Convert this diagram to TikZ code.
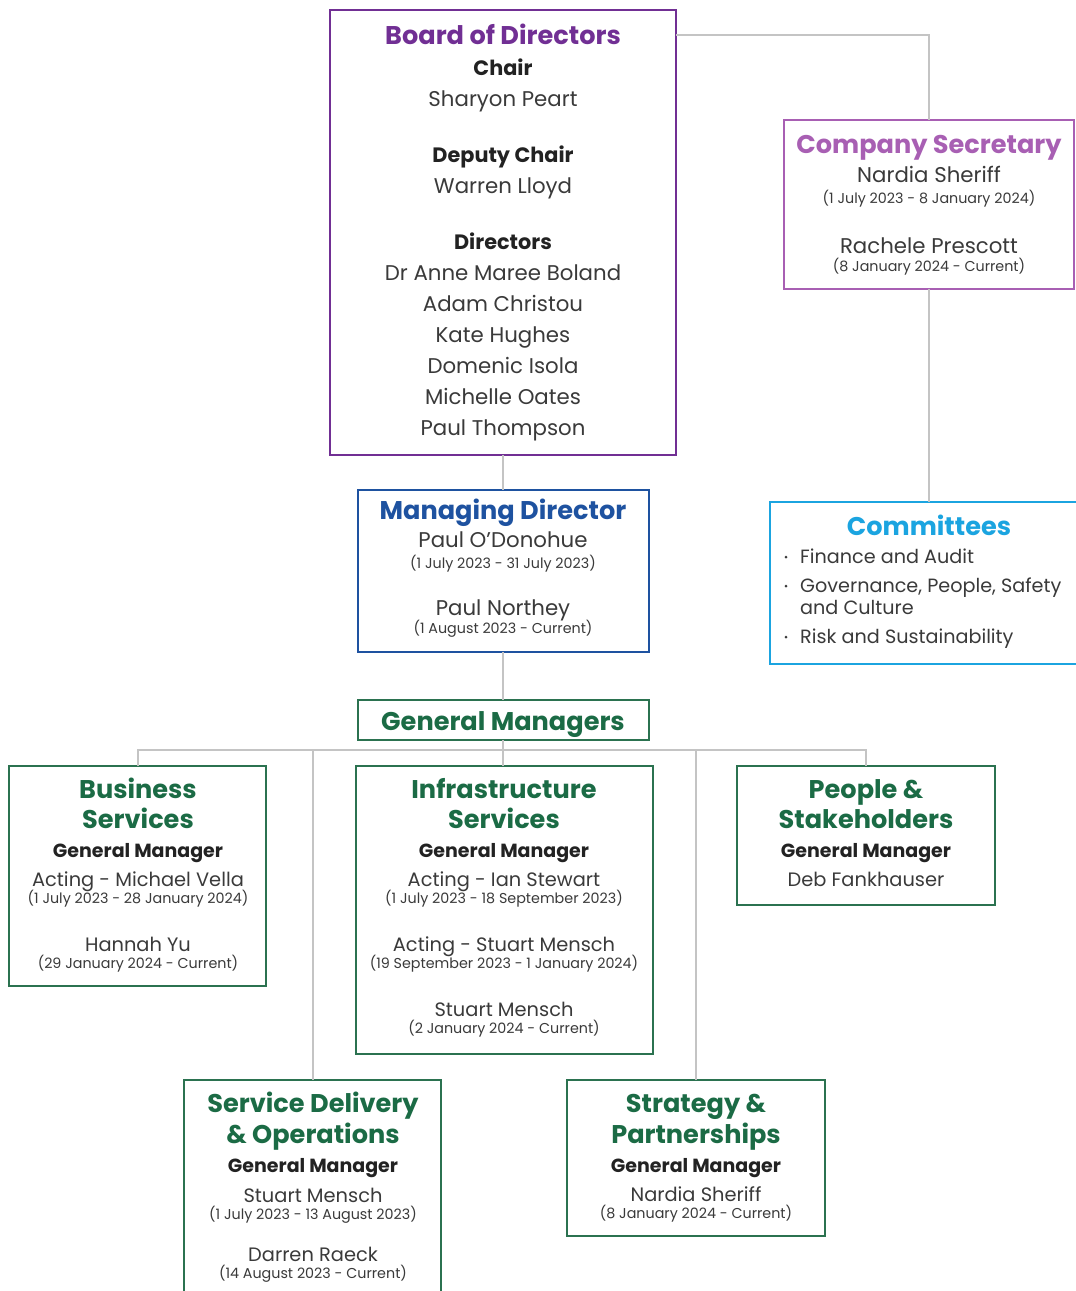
\documentclass[tikz,border=0pt]{standalone}
\usepackage{fontspec}
\setmainfont{Poppins}
\definecolor{boardpurple}{HTML}{712F94}
\definecolor{secpurple}{HTML}{A85FB3}
\definecolor{mdblue}{HTML}{1E52A0}
\definecolor{comcyan}{HTML}{1BA4E0}
\definecolor{gmgreen}{HTML}{1B6B45}
\definecolor{gmborder}{HTML}{2B7250}
\definecolor{connector}{HTML}{C4C4C4}
\definecolor{bodytext}{HTML}{3A3A3A}
\definecolor{roletext}{HTML}{222222}
\newcounter{txtline}
% place one line of text with its baseline at (x,y)
\newcommand\txtline[4]{\stepcounter{txtline}\node[#3] (line\arabic{txtline}) at (#1,#2) {#4};}
\tikzset{
  orgbox/.style={draw=#1, line width=2pt, fill=white, anchor=north west, inner sep=0pt, outer sep=0pt},
  conn/.style={draw=connector, line width=2pt},
  ttl/.style={anchor=base, inner sep=0pt, text=#1, font=\fontsize{25.6}{30}\selectfont\bfseries},
  role/.style={anchor=base, inner sep=0pt, text=roletext, font=\fontsize{19}{23}\selectfont\bfseries},
  bigrole/.style={role, font=\fontsize{20.8}{25}\selectfont\bfseries},
  person/.style={anchor=base, inner sep=0pt, text=bodytext, font=\fontsize{19.4}{24}\selectfont},
  bigperson/.style={person, font=\fontsize{21.3}{25}\selectfont},
  item/.style={anchor=base west, inner sep=0pt, text=bodytext, font=\fontsize{19.2}{24}\selectfont},
  period/.style={anchor=base, inner sep=0pt, text=bodytext, font=\fontsize{14.3}{17}\selectfont},
  dot/.style={circle, fill=bodytext, inner sep=0pt, minimum size=3pt},
}
\begin{document}
\begin{tikzpicture}[x=1pt, y=-1pt]
\useasboundingbox (0,0) rectangle (1076,1291);
\clip (0,0) rectangle (1076,1291);

% boxes
\node[orgbox=boardpurple, minimum width=346pt, minimum height=445pt] (bod) at (330,10) {};
\node[orgbox=secpurple, minimum width=290pt, minimum height=169pt] (cs) at (784,120) {};
\node[orgbox=mdblue, minimum width=291pt, minimum height=162pt] (md) at (358,490) {};
\node[orgbox=comcyan, minimum width=320pt, minimum height=162pt] (com) at (770,502) {};
\node[orgbox=gmborder, minimum width=291pt, minimum height=40pt] (gm) at (358,700) {};
\node[orgbox=gmborder, minimum width=257pt, minimum height=220pt] (bs) at (9,766) {};
\node[orgbox=gmborder, minimum width=297pt, minimum height=288pt] (inf) at (356,766) {};
\node[orgbox=gmborder, minimum width=258pt, minimum height=139pt] (ps) at (737,766) {};
\node[orgbox=gmborder, minimum width=257pt, minimum height=240pt] (sd) at (184,1080) {};
\node[orgbox=gmborder, minimum width=258pt, minimum height=156pt] (sp) at (567,1080) {};
\coordinate (bar) at (503,750);

% connectors
\draw[conn] ([yshift=-25pt]bod.north east) -| (cs.north);
\draw[conn] (cs.south) -- (cs.south |- com.north);
\draw[conn] (bod.south) -- (bod.south |- md.north);
\draw[conn] (bod.south |- md.south) -- (bod.south |- gm.north);
\draw[conn] (bod.south |- gm.south) -- (bar);
\draw[conn] (bs.north) |- (ps.north |- bar) -- (ps.north);
\draw[conn] (bar) -- (bar |- inf.north);
\draw[conn] (sd.north) -- (sd.north |- bar);
\draw[conn] (sp.north) -- (sp.north |- bar);

% Board of Directors
\txtline{503}{44}{ttl=boardpurple}{Board of Directors}
\txtline{503}{75}{bigrole}{Chair}
\txtline{503}{106}{bigperson}{Sharyon Peart}
\txtline{503}{162}{bigrole}{Deputy Chair}
\txtline{503}{193}{bigperson}{Warren Lloyd}
\txtline{503}{249}{bigrole}{Directors}
\txtline{503}{280}{bigperson}{Dr Anne Maree Boland}
\txtline{503}{311}{bigperson}{Adam Christou}
\txtline{503}{342}{bigperson}{Kate Hughes}
\txtline{503}{373}{bigperson}{Domenic Isola}
\txtline{503}{404}{bigperson}{Michelle Oates}
\txtline{503}{435}{bigperson}{Paul Thompson}

% Company Secretary
\txtline{929}{153}{ttl=secpurple}{Company Secretary}
\txtline{929}{182}{bigperson}{Nardia Sheriff}
\txtline{929}{203}{period}{(1 July 2023 - 8 January 2024)}
\txtline{929}{253}{bigperson}{Rachele Prescott}
\txtline{929}{271}{period}{(8 January 2024 - Current)}

% Managing Director
\txtline{503}{519}{ttl=mdblue}{Managing Director}
\txtline{503}{547}{bigperson}{Paul O’Donohue}
\txtline{503}{568}{period}{(1 July 2023 - 31 July 2023)}
\txtline{503}{615}{bigperson}{Paul Northey}
\txtline{503}{633}{period}{(1 August 2023 - Current)}

% Committees
\txtline{929}{535}{ttl=comcyan}{Committees}
\node[dot] (b1) at (786,557) {};
\node[dot] (b2) at (786,586) {};
\node[dot] (b3) at (786,637) {};
\txtline{800}{563}{item}{Finance and Audit}
\txtline{800}{592}{item}{Governance, People, Safety}
\txtline{800}{614}{item}{and Culture}
\txtline{800}{643}{item}{Risk and Sustainability}

% General Managers
\txtline{503}{730}{ttl=gmgreen}{General Managers}

% Business Services
\txtline{138}{798}{ttl=gmgreen}{Business}
\txtline{138}{828}{ttl=gmgreen}{Services}
\txtline{138}{857}{role}{General Manager}
\txtline{138}{886}{person}{Acting - Michael Vella}
\txtline{138}{903}{period}{(1 July 2023 - 28 January 2024)}
\txtline{138}{951}{person}{Hannah Yu}
\txtline{138}{968}{period}{(29 January 2024 - Current)}

% Infrastructure Services
\txtline{504}{798}{ttl=gmgreen}{Infrastructure}
\txtline{504}{828}{ttl=gmgreen}{Services}
\txtline{504}{857}{role}{General Manager}
\txtline{504}{886}{person}{Acting - Ian Stewart}
\txtline{504}{903}{period}{(1 July 2023 - 18 September 2023)}
\txtline{504}{951}{person}{Acting - Stuart Mensch}
\txtline{504}{968}{period}{(19 September 2023 - 1 January 2024)}
\txtline{504}{1016}{person}{Stuart Mensch}
\txtline{504}{1033}{period}{(2 January 2024 - Current)}

% People & Stakeholders
\txtline{866}{798}{ttl=gmgreen}{People \&}
\txtline{866}{828}{ttl=gmgreen}{Stakeholders}
\txtline{866}{857}{role}{General Manager}
\txtline{866}{886}{person}{Deb Fankhauser}

% Service Delivery & Operations
\txtline{313}{1112}{ttl=gmgreen}{Service Delivery}
\txtline{313}{1143}{ttl=gmgreen}{\& Operations}
\txtline{313}{1172}{role}{General Manager}
\txtline{313}{1202}{person}{Stuart Mensch}
\txtline{313}{1219}{period}{(1 July 2023 - 13 August 2023)}
\txtline{313}{1261}{person}{Darren Raeck}
\txtline{313}{1278}{period}{(14 August 2023 - Current)}

% Strategy & Partnerships
\txtline{696}{1112}{ttl=gmgreen}{Strategy \&}
\txtline{696}{1143}{ttl=gmgreen}{Partnerships}
\txtline{696}{1172}{role}{General Manager}
\txtline{696}{1201}{person}{Nardia Sheriff}
\txtline{696}{1218}{period}{(8 January 2024 - Current)}
\end{tikzpicture}
\end{document}
